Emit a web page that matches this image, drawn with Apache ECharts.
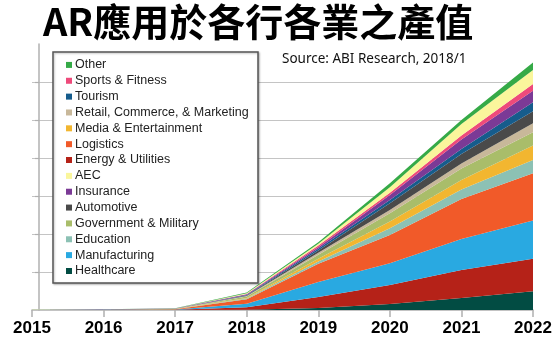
<!DOCTYPE html>
<html>
<head>
<meta charset="utf-8">
<script src="https://cdn.jsdelivr.net/npm/echarts@6/dist/echarts.min.js"></script>
<style>
html,body{margin:0;padding:0;background:#fff;}
#chart{width:560px;height:340px;}
</style>
</head>
<body>
<div id="chart"></div>
<script>
const years = ['2015','2016','2017','2018','2019','2020','2021','2022'];

// stacking order bottom -> top
const healthcare    = [0.004, 0.008, 0.012, 0.04, 0.26, 0.79, 1.58, 2.47];
const energy        = [0.004, 0.008, 0.03, 0.32, 1.45, 2.50, 3.68, 4.26];
const manufacturing = [0.004, 0.008, 0.03, 0.46, 1.97, 2.86, 4.08, 5.04];
const logistics     = [0.004, 0.008, 0.03, 0.59, 2.41, 3.72, 5.26, 6.22];
const education     = [0.004, 0.008, 0.012, 0.09, 0.30, 0.88, 1.25, 1.76];
const media         = [0.004, 0.008, 0.012, 0.09, 0.36, 0.88, 1.25, 1.88];
const government    = [0.004, 0.008, 0.012, 0.17, 0.53, 1.11, 1.51, 1.75];
const retail        = [0.004, 0.008, 0.012, 0.07, 0.26, 0.43, 0.66, 1.18];
const automotive    = [0.004, 0.008, 0.012, 0.09, 0.30, 0.88, 1.25, 1.58];
const tourism       = [0.004, 0.008, 0.012, 0.07, 0.22, 0.43, 0.66, 1.18];
const insurance     = [0.004, 0.008, 0.012, 0.09, 0.21, 0.66, 1.25, 1.54];
const sports        = [0.004, 0.008, 0.012, 0.04, 0.22, 0.30, 0.53, 0.88];
const aec           = [0.004, 0.008, 0.012, 0.09, 0.22, 0.71, 1.51, 1.84];
const other         = [0.004, 0.008, 0.012, 0.09, 0.21, 0.53, 0.53, 1.00];

const seriesNames = ['Healthcare','Energy & Utilities','Manufacturing','Logistics','Education',
  'Media & Entertainment','Government & Military','Retail, Commerce, & Marketing','Automotive',
  'Tourism','Insurance','Sports & Fitness','AEC','Other'];
const seriesData = [healthcare, energy, manufacturing, logistics, education, media, government,
  retail, automotive, tourism, insurance, sports, aec, other];
const seriesColors = ['#024c43','#b52218','#29a9e1','#f15a29','#8cc1b4','#f2b630','#a9bd6a',
  '#c8b89a','#4a4a4a','#165c8c','#7b3a96','#ee4a7b','#faf69c','#35aa47'];

const legendOrder = ['Other','Sports & Fitness','Tourism','Retail, Commerce, & Marketing',
  'Media & Entertainment','Logistics','Energy & Utilities','AEC','Insurance','Automotive',
  'Government & Military','Education','Manufacturing','Healthcare'];

const titleText = 'AR應用於各行各業之產值';
const sourceText = 'Source: ABI Research, 2018/1';

const chart = echarts.init(document.getElementById('chart'), null, {renderer:'canvas'});

const series = seriesNames.map((n, i) => ({
  name: n,
  type: 'line',
  stack: 'total',
  data: seriesData[i],
  symbol: 'none',
  showSymbol: false,
  lineStyle: {width: 0},
  itemStyle: {color: seriesColors[i]},
  areaStyle: {color: seriesColors[i], opacity: 1},
  emphasis: {disabled: true},
  z: 2
}));

const gl = '#c4c4c4';
chart.setOption({
  animation: false,
  backgroundColor: '#fff',
  grid: {left: 32, right: 27, top: 44, bottom: 30, containLabel: false},
  xAxis: {
    type: 'category',
    data: years,
    boundaryGap: false,
    axisLine: {lineStyle: {color: '#b0b0b0', width: 1.5}},
    axisTick: {length: 7, lineStyle: {color: '#b0b0b0', width: 1.5}},
    axisLabel: {color: '#000', fontFamily: 'Liberation Sans', fontWeight: 'bold', fontSize: 17, margin: 10}
  },
  yAxis: {
    type: 'value',
    min: 0, max: 35, interval: 5,
    offset: -7,
    axisLine: {show: true, lineStyle: {color: '#b0b0b0', width: 1.5}},
    axisTick: {show: true, length: 4, customValues: [5,10,15,20,25,30], lineStyle: {color: '#b0b0b0', width: 1.2}},
    axisLabel: {show: false},
    splitLine: {show: true, lineStyle: {color: [gl,gl,gl,gl,gl,gl,gl,'rgba(0,0,0,0)'], width: 1.2}}
  },
  legend: {
    orient: 'vertical',
    left: 61, top: 52,
    data: legendOrder,
    icon: 'rect',
    itemWidth: 6, itemHeight: 6,
    itemGap: 0,
    selectedMode: false,
    textStyle: {fontFamily: 'Liberation Sans', fontSize: 12.5, color: '#222', lineHeight: 15.85, padding: [0,0,0,-2]},
    z: 6
  },
  graphic: [
    {type: 'rect', z: 5, shape: {x: 53, y: 52, width: 205, height: 231},
     style: {fill: '#fff', stroke: '#555', lineWidth: 1.5, shadowColor: 'rgba(0,0,0,0.25)', shadowBlur: 2, shadowOffsetX: 1, shadowOffsetY: 1}},
    {type: 'text', z: 7, x: 43, y: 3,
     style: {text: titleText, fontFamily: 'Noto Sans CJK TC', fontWeight: 'bold', fontSize: 38, fill: '#000'}},
    {type: 'text', z: 7, x: 282, y: 59,
     style: {text: sourceText, fontFamily: 'Noto Sans', fontSize: 13.5, fill: '#111', verticalAlign: 'middle'}}
  ],
  series: series
});
</script>
</body>
</html>
